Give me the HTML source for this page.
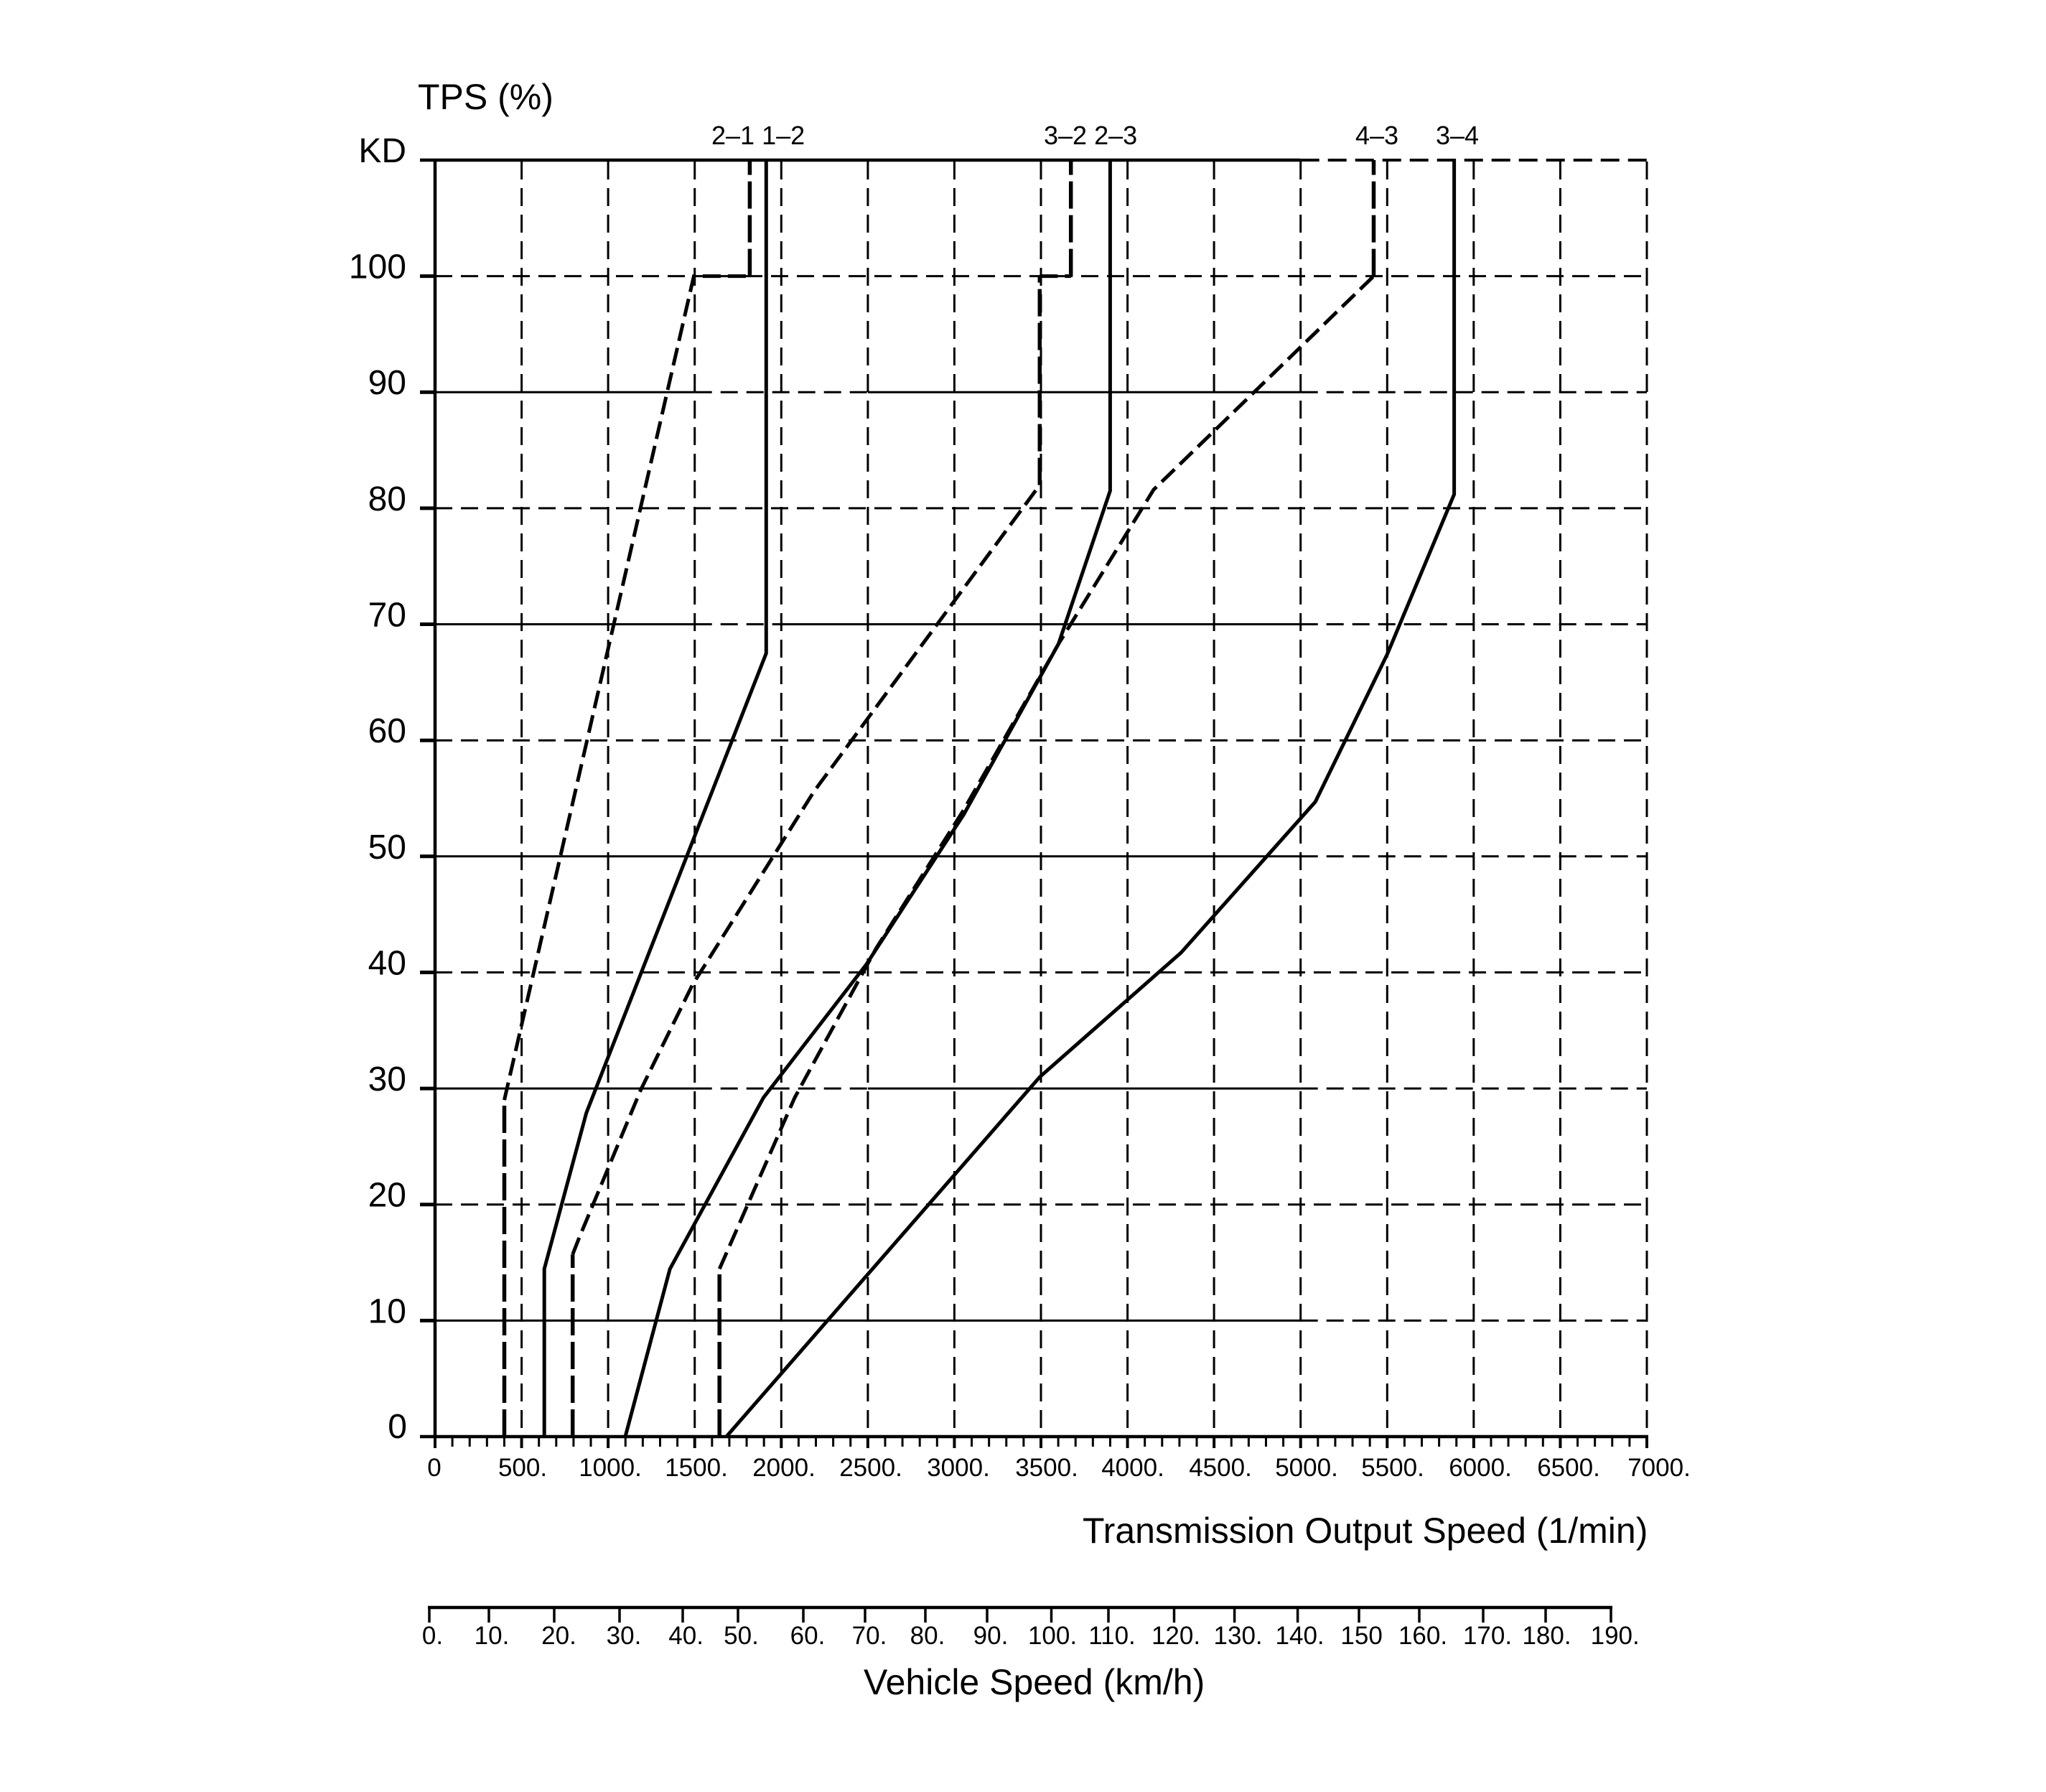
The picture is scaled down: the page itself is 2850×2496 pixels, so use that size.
<!DOCTYPE html>
<html>
<head>
<meta charset="utf-8">
<style>
html,body{margin:0;padding:0;background:#fff;}
svg{display:block;}
text{font-family:"Liberation Sans",Arial,sans-serif;fill:#000;}
</style>
</head>
<body>
<svg width="2850" height="2496" viewBox="0 0 2850 2496" xmlns="http://www.w3.org/2000/svg">
<rect x="0" y="0" width="2850" height="2496" fill="#fff"/>

<!-- vertical dashed grid lines -->
<g stroke="#000" stroke-width="3" stroke-dasharray="25 12" fill="none">
<line x1="726.6" y1="225" x2="726.6" y2="2001"/>
<line x1="847.1" y1="225" x2="847.1" y2="2001"/>
<line x1="967.7" y1="225" x2="967.7" y2="2001"/>
<line x1="1088.3" y1="225" x2="1088.3" y2="2001"/>
<line x1="1208.9" y1="225" x2="1208.9" y2="2001"/>
<line x1="1329.4" y1="225" x2="1329.4" y2="2001"/>
<line x1="1450.0" y1="225" x2="1450.0" y2="2001"/>
<line x1="1570.6" y1="225" x2="1570.6" y2="2001"/>
<line x1="1691.1" y1="225" x2="1691.1" y2="2001"/>
<line x1="1811.7" y1="225" x2="1811.7" y2="2001"/>
<line x1="1932.3" y1="225" x2="1932.3" y2="2001"/>
<line x1="2052.8" y1="225" x2="2052.8" y2="2001"/>
<line x1="2173.4" y1="225" x2="2173.4" y2="2001"/>
<line x1="2294.0" y1="225" x2="2294.0" y2="2001"/>
</g>

<!-- horizontal dashed grid lines -->
<g stroke="#000" stroke-width="3" stroke-dasharray="24 12" fill="none">
<line x1="606" y1="384.6" x2="2294" y2="384.6"/>
<line x1="606" y1="707.9" x2="2294" y2="707.9"/>
<line x1="606" y1="1031.2" x2="2294" y2="1031.2"/>
<line x1="606" y1="1354.4" x2="2294" y2="1354.4"/>
<line x1="606" y1="1677.7" x2="2294" y2="1677.7"/>
<!-- dashed parts of solid lines -->
<line x1="967.7" y1="546.2" x2="1208.9" y2="546.2"/>
<line x1="1811.7" y1="546.2" x2="2294" y2="546.2"/>
<line x1="967.7" y1="869.5" x2="1088.3" y2="869.5"/>
<line x1="1811.7" y1="869.5" x2="2294" y2="869.5"/>
<line x1="1811.7" y1="1192.8" x2="2294" y2="1192.8"/>
<line x1="967.7" y1="1516.1" x2="1208.9" y2="1516.1"/>
<line x1="1811.7" y1="1516.1" x2="2294" y2="1516.1"/>
<line x1="1811.7" y1="1839.4" x2="2294" y2="1839.4"/>
</g>
<g stroke="#000" stroke-width="4" stroke-dasharray="26 12" fill="none">
<line x1="1811.7" y1="223" x2="2294" y2="223"/>
</g>

<!-- horizontal solid grid lines -->
<g stroke="#000" stroke-width="3" fill="none">
<line x1="606" y1="546.2" x2="967.7" y2="546.2"/>
<line x1="1208.9" y1="546.2" x2="1811.7" y2="546.2"/>
<line x1="606" y1="869.5" x2="967.7" y2="869.5"/>
<line x1="1088.3" y1="869.5" x2="1811.7" y2="869.5"/>
<line x1="606" y1="1192.8" x2="1811.7" y2="1192.8"/>
<line x1="606" y1="1516.1" x2="967.7" y2="1516.1"/>
<line x1="1208.9" y1="1516.1" x2="1811.7" y2="1516.1"/>
<line x1="606" y1="1839.4" x2="1811.7" y2="1839.4"/>
</g>
<!-- KD line and baseline -->
<line x1="585" y1="223" x2="1811.7" y2="223" stroke="#000" stroke-width="4.5"/>
<line x1="585" y1="2001" x2="2296" y2="2001" stroke="#000" stroke-width="4.5"/>

<!-- y-axis tick stubs -->
<g stroke="#000" stroke-width="5">
<line x1="585" y1="384.6" x2="606" y2="384.6"/>
<line x1="585" y1="546.2" x2="606" y2="546.2"/>
<line x1="585" y1="707.9" x2="606" y2="707.9"/>
<line x1="585" y1="869.5" x2="606" y2="869.5"/>
<line x1="585" y1="1031.2" x2="606" y2="1031.2"/>
<line x1="585" y1="1192.8" x2="606" y2="1192.8"/>
<line x1="585" y1="1354.4" x2="606" y2="1354.4"/>
<line x1="585" y1="1516.1" x2="606" y2="1516.1"/>
<line x1="585" y1="1677.7" x2="606" y2="1677.7"/>
<line x1="585" y1="1839.4" x2="606" y2="1839.4"/>
</g>

<!-- y axis -->
<line x1="606" y1="221" x2="606" y2="2003" stroke="#000" stroke-width="4.5"/>

<!-- x axis minor / major ticks -->
<line x1="604.5" y1="2009" x2="2297" y2="2009" stroke="#000" stroke-width="12" stroke-dasharray="3 21.114"/>
<line x1="604" y1="2010" x2="2298" y2="2010" stroke="#000" stroke-width="14" stroke-dasharray="4 116.571"/>

<!-- x axis labels -->
<g font-size="35" text-anchor="middle">
<text x="605" y="2056">0</text>
<text x="728" y="2056">500.</text>
<text x="850" y="2056">1000.</text>
<text x="970" y="2056">1500.</text>
<text x="1092" y="2056">2000.</text>
<text x="1213" y="2056">2500.</text>
<text x="1335" y="2056">3000.</text>
<text x="1458" y="2056">3500.</text>
<text x="1578" y="2056">4000.</text>
<text x="1700" y="2056">4500.</text>
<text x="1820" y="2056">5000.</text>
<text x="1940" y="2056">5500.</text>
<text x="2062" y="2056">6000.</text>
<text x="2185" y="2056">6500.</text>
<text x="2311" y="2056">7000.</text>
</g>

<!-- y axis labels -->
<g font-size="48" text-anchor="end">
<text x="566" y="226">KD</text>
<text x="566" y="387.6">100</text>
<text x="566" y="549.2">90</text>
<text x="566" y="710.9">80</text>
<text x="566" y="872.5">70</text>
<text x="566" y="1034.2">60</text>
<text x="566" y="1195.8">50</text>
<text x="566" y="1357.4">40</text>
<text x="566" y="1519.1">30</text>
<text x="566" y="1680.7">20</text>
<text x="566" y="1842.4">10</text>
<text x="567" y="2003">0</text>
</g>

<text x="582" y="152" font-size="50">TPS (%)</text>

<!-- shift labels -->
<g font-size="36">
<text x="991" y="201">2–1 1–2</text>
<text x="1454" y="201">3–2 2–3</text>
<text x="1888" y="201">4–3</text>
<text x="2000" y="201">3–4</text>
</g>

<!-- curves: solid -->
<g stroke="#000" stroke-width="5" fill="none" stroke-linejoin="miter">
<polyline points="758.2,2001 758.2,1767.4 816.8,1550.0 1067.3,909.9 1067.3,221"/>
<polyline points="871.0,2001 933.2,1767.4 1063.4,1529.0 1206.9,1343.1 1342.4,1134.6 1474.4,897.0 1546.4,683.6 1546.4,221"/>
<polyline points="1011.8,2001 1448.3,1500.1 1645.1,1327.0 1832.2,1116.8 1932.3,911.5 2025.6,688.5 2025.6,221"/>
</g>

<!-- curves: dashed verticals -->
<g stroke="#000" stroke-width="5.5" fill="none" stroke-dasharray="38 9">
<line x1="702.5" y1="2001" x2="702.5" y2="1532.2"/>
<line x1="1044.4" y1="384.6" x2="1044.4" y2="223"/>
<line x1="797.7" y1="2001" x2="797.7" y2="1747.2"/>
<line x1="1448.3" y1="675.6" x2="1448.3" y2="384.6"/>
<line x1="1491.7" y1="384.6" x2="1491.7" y2="223"/>
<line x1="1002.2" y1="2001" x2="1002.2" y2="1767.4"/>
<line x1="1913.5" y1="384.6" x2="1913.5" y2="223"/>
</g>

<!-- curves: dashed diagonals -->
<g stroke="#000" stroke-width="5" fill="none" stroke-dasharray="25 10" stroke-linejoin="miter">
<polyline points="702.5,1532.2 966.5,384.6 1044.4,384.6"/>
<polyline points="797.7,1747.2 805.9,1726.2 892.7,1517.7 964.3,1372.2 1133.9,1102.3 1448.3,675.6"/>
<polyline points="1448.3,384.6 1491.7,384.6"/>
<polyline points="1002.2,1767.4 1106.9,1529.0 1220.7,1320.5 1342.4,1128.1 1474.4,897.0 1607.0,682.0 1913.5,384.6"/>
</g>

<text x="1508" y="2149" font-size="50">Transmission Output Speed (1/min)</text>

<!-- vehicle speed axis -->
<line x1="596" y1="2239" x2="2246" y2="2239" stroke="#000" stroke-width="4.5"/>
<g stroke="#000" stroke-width="3.5">
<line x1="598" y1="2239" x2="598" y2="2260"/>
<line x1="681" y1="2239" x2="681" y2="2260"/>
<line x1="772" y1="2239" x2="772" y2="2260"/>
<line x1="863" y1="2239" x2="863" y2="2260"/>
<line x1="951" y1="2239" x2="951" y2="2260"/>
<line x1="1028" y1="2239" x2="1028" y2="2260"/>
<line x1="1119" y1="2239" x2="1119" y2="2260"/>
<line x1="1205" y1="2239" x2="1205" y2="2260"/>
<line x1="1289" y1="2239" x2="1289" y2="2260"/>
<line x1="1375" y1="2239" x2="1375" y2="2260"/>
<line x1="1464.5" y1="2239" x2="1464.5" y2="2260"/>
<line x1="1544" y1="2239" x2="1544" y2="2260"/>
<line x1="1635.5" y1="2239" x2="1635.5" y2="2260"/>
<line x1="1719.6" y1="2239" x2="1719.6" y2="2260"/>
<line x1="1807.6" y1="2239" x2="1807.6" y2="2260"/>
<line x1="1893" y1="2239" x2="1893" y2="2260"/>
<line x1="1977" y1="2239" x2="1977" y2="2260"/>
<line x1="2066" y1="2239" x2="2066" y2="2260"/>
<line x1="2153" y1="2239" x2="2153" y2="2260"/>
<line x1="2244" y1="2239" x2="2244" y2="2260"/>
</g>
<g font-size="35" text-anchor="middle">
<text x="602.5" y="2290">0.</text>
<text x="685" y="2290">10.</text>
<text x="778.5" y="2290">20.</text>
<text x="869" y="2290">30.</text>
<text x="955.6" y="2290">40.</text>
<text x="1032.5" y="2290">50.</text>
<text x="1125" y="2290">60.</text>
<text x="1211" y="2290">70.</text>
<text x="1292" y="2290">80.</text>
<text x="1380" y="2290">90.</text>
<text x="1466" y="2290">100.</text>
<text x="1549" y="2290">110.</text>
<text x="1638" y="2290">120.</text>
<text x="1724.6" y="2290">130.</text>
<text x="1810.6" y="2290">140.</text>
<text x="1896.6" y="2290">150</text>
<text x="1982" y="2290">160.</text>
<text x="2072" y="2290">170.</text>
<text x="2154.5" y="2290">180.</text>
<text x="2249.7" y="2290">190.</text>
</g>
<text x="1203" y="2360" font-size="50">Vehicle Speed (km/h)</text>
</svg>
</body>
</html>
